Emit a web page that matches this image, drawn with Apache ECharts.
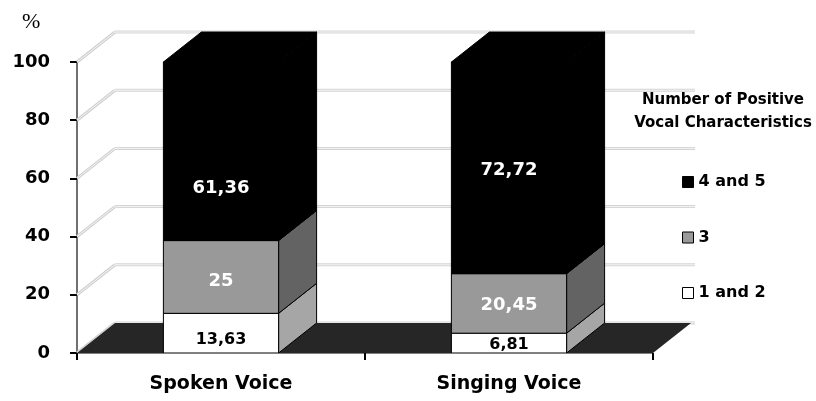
<!DOCTYPE html>
<html lang="en">
<head>
  <meta charset="UTF-8">
  <title>Positive vocal characteristics</title>
  <style>
    html, body { margin: 0; padding: 0; background: #fff; }
    #chart { width: 816px; height: 401px; }
  </style>
</head>
<body>
  <div id="chart"></div>
<script src="https://cdn.jsdelivr.net/npm/echarts@6/dist/echarts.min.js"></script>
<script>
  // data
  let categories = ['Spoken Voice', 'Singing Voice']
  let layerNames = ['1 and 2', '3', '4 and 5']
  let low = [13.63, 6.81]     // 1 and 2
  let mid = [25, 20.45]       // 3
  let high = [61.36, 72.72]   // 4 and 5
  let yTicks = [0, 20, 40, 60, 80, 100]

  // 3d look
  const DX = 38, DY = -30
  const BAR = 0.4
  const FONT = 'DejaVu Sans'
  const faces = [
    { front: '#ffffff', side: '#a6a6a6', top: '#d9d9d9', text: '#000', size: 16 },
    { front: '#999999', side: '#636363', top: '#808080', text: '#fff', size: 18 },
    { front: '#000000', side: '#000000', top: '#000000', text: '#fff', size: 18 }
  ]
  // label nudges in px, [layer][category]
  const labelShift = [[7, 2], [4, 2], [37, 2]]

  let layers = [low, mid, high]
  let stacked = layers.map((vals, li) => vals.map((v, ci) => {
    let base = 0
    for (let k = 0; k < li; k++) base += layers[k][ci]
    return [ci, base, base + v, v]
  }))

  function boxItem(layer) {
    return function (params, api) {
      let ci = api.value(0)
      let a = api.coord([ci, api.value(1)])
      let b = api.coord([ci, api.value(2)])
      let w = api.size([1, 0])[0] * BAR
      let x0 = a[0] - w / 2, x1 = a[0] + w / 2
      let y0 = a[1], y1 = b[1]
      let f = faces[layer]
      return {
        type: 'group',
        children: [
          {
            type: 'polygon',
            shape: { points: [[x0, y1], [x1, y1], [x1 + DX, y1 + DY], [x0 + DX, y1 + DY]] },
            style: { fill: f.top, stroke: '#000', lineWidth: 1 }
          },
          {
            type: 'polygon',
            shape: { points: [[x1, y0], [x1 + DX, y0 + DY], [x1 + DX, y1 + DY], [x1, y1]] },
            style: { fill: f.side, stroke: '#000', lineWidth: 1 }
          },
          {
            type: 'rect',
            shape: { x: x0, y: y1, width: w, height: y0 - y1 },
            style: { fill: f.front, stroke: '#000', lineWidth: 1 }
          },
          {
            type: 'text',
            x: a[0],
            y: (y0 + y1) / 2 + labelShift[layer][ci],
            style: {
              text: String(api.value(3)).replace('.', ','),
              fill: f.text,
              font: 'bold ' + f.size + 'px ' + FONT,
              align: 'center',
              verticalAlign: 'middle'
            }
          }
        ]
      }
    }
  }

  function wallItem(params, api) {
    let cs = params.coordSys
    let y = api.coord([0, api.value(1)])[1]
    let xl = cs.x, xr = cs.x + cs.width
    return {
      type: 'group',
      children: [
        { type: 'line', shape: { x1: xl, y1: y, x2: xl + DX, y2: y + DY }, style: { stroke: '#cfcfcf', lineWidth: 3 } },
        { type: 'line', shape: { x1: xl, y1: y, x2: xl + DX, y2: y + DY }, style: { stroke: '#f6f6f6', lineWidth: 1 } },
        { type: 'line', shape: { x1: xl + DX, y1: y + DY, x2: xr + DX + 4, y2: y + DY }, style: { stroke: '#d4d4d4', lineWidth: 3 } },
        { type: 'line', shape: { x1: xl + DX, y1: y + DY, x2: xr + DX + 4, y2: y + DY }, style: { stroke: '#f6f6f6', lineWidth: 1 } }
      ]
    }
  }

  function floorItem(params, api) {
    let cs = params.coordSys
    let y = api.coord([0, 0])[1]
    let xl = cs.x, xr = cs.x + cs.width
    return {
      type: 'polygon',
      shape: { points: [[xl, y], [xr, y], [xr + DX, y + DY], [xl + DX, y + DY]] },
      style: { fill: '#262626' }
    }
  }

  let series = [
    {
      name: 'walls', type: 'custom', silent: true,
      data: yTicks.map(v => [0, v]), encode: { x: 0, y: 1 },
      renderItem: wallItem
    },
    {
      name: 'floor', type: 'custom', silent: true,
      data: [[0, 0]], encode: { x: 0, y: 1 },
      renderItem: floorItem
    }
  ]
  layerNames.forEach((name, li) => {
    series.push({
      name: name,
      type: 'custom',
      itemStyle: { color: faces[li].front },
      data: stacked[li],
      encode: { x: 0, y: 2 },
      renderItem: boxItem(li)
    })
  })

  let chart = echarts.init(document.getElementById('chart'), null, { renderer: 'canvas' })
  chart.setOption({
    animation: false,
    backgroundColor: '#fff',
    grid: { left: 77, right: 163, top: 62, bottom: 48, outerBoundsMode: 'none' },
    xAxis: {
      type: 'category',
      data: categories,
      z: 10,
      axisLine: { lineStyle: { color: '#808080', width: 1 } },
      axisTick: { show: true, length: 7, lineStyle: { color: '#000', width: 2 } },
      axisLabel: { margin: 22, fontSize: 19, fontWeight: 'bold', fontFamily: FONT, color: '#000' }
    },
    yAxis: {
      type: 'value',
      min: 0,
      max: 100,
      interval: 20,
      axisLine: { show: true, lineStyle: { color: '#707070', width: 2 } },
      axisTick: { show: true, length: 7, lineStyle: { color: '#000', width: 2 } },
      splitLine: { show: false },
      axisLabel: { margin: 27, fontSize: 18, fontWeight: 'bold', fontFamily: FONT, color: '#000' }
    },
    legend: {
      orient: 'vertical',
      left: 682,
      top: 174,
      padding: 0,
      itemWidth: 11,
      itemHeight: 11,
      itemGap: 39.5,
      icon: 'rect',
      textStyle: { fontSize: 16, fontWeight: 'bold', fontFamily: FONT, color: '#000' },
      data: [
        { name: '4 and 5', itemStyle: { color: '#000', borderColor: '#000', borderWidth: 1 } },
        { name: '3', itemStyle: { color: '#999', borderColor: '#000', borderWidth: 1 } },
        { name: '1 and 2', itemStyle: { color: '#fff', borderColor: '#000', borderWidth: 1 } }
      ]
    },
    graphic: [
      {
        type: 'text', left: 22, top: 11,
        style: { text: '%', font: '22px "Liberation Serif"', fill: '#000' }
      },
      {
        type: 'text', x: 723, y: 89,
        style: {
          text: 'Number of Positive\nVocal Characteristics',
          font: 'bold 15px ' + FONT,
          lineHeight: 23,
          fill: '#000',
          align: 'center'
        }
      }
    ],
    series: series
  })
</script>
</body>
</html>
